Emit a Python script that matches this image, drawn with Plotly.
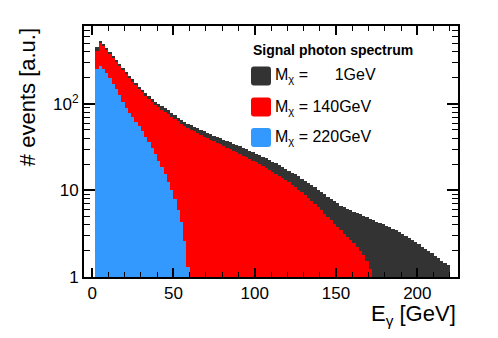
import numpy as np
import plotly.graph_objects as go

# histogram binning: 2 GeV bins starting at 2 GeV
bin_width = 2.0
bin_start = 2.0

# bin contents (log scale), one entry per bin
counts_1gev = [
    455, 530, 490, 440, 400, 360, 322, 290, 260, 235,
    212, 192, 174, 158, 145, 133, 123, 114, 106, 100,
    94, 89, 84, 79, 74, 69, 65, 62, 59, 56.5,
    54.5, 52.5, 50.5, 48.5, 46.5, 44.5, 43, 41.5, 40, 38.5,
    37.2, 36, 34.8, 33.6, 32.4, 31.2, 30, 28.9, 27.8, 26.7,
    25.6, 24.6, 23.6, 22.5, 21.5, 20.5, 19.6, 18.7, 17.8, 16.9,
    16.1, 15.3, 14.5, 13.7, 13.0, 12.3, 11.6, 10.9, 10.2, 9.6,
    9.0, 8.5, 8.0, 7.5, 7.1, 6.7, 6.4, 6.1, 5.9, 5.7,
    5.5, 5.3, 5.1, 4.9, 4.7, 4.5, 4.35, 4.2, 4.05, 3.9,
    3.75, 3.6, 3.45, 3.3, 3.15, 3.0, 2.85, 2.7, 2.55, 2.4,
    2.25, 2.12, 2.0, 1.88, 1.76, 1.65, 1.55, 1.46, 1.38,
]
counts_140gev = [
    405, 505, 465, 420, 380, 342, 305, 275, 246, 222,
    200, 181, 164, 149, 136, 125, 115, 106, 98, 92,
    86, 81, 76, 71, 67, 63, 59, 56, 53, 50.5,
    48, 46, 44, 42, 40.2, 38.6, 37, 35.5, 34, 32.6,
    31.3, 30, 28.8, 27.6, 26.4, 25.3, 24.2, 23.1, 22.1, 21.1,
    20.1, 19.1, 18.2, 17.3, 16.4, 15.6, 14.8, 14.0, 13.2, 12.4,
    11.6, 10.9, 10.2, 9.5, 8.8, 8.2, 7.6, 7.0, 6.4, 5.9,
    5.4, 4.9, 4.5, 4.1, 3.75, 3.45, 3.15, 2.9, 2.65, 2.45,
    2.25, 2.0, 1.8, 1.55, 1.25,
]
counts_220gev = [
    250, 275, 255, 225, 198, 172, 148, 127, 104, 90,
    79, 70, 62, 55, 48.5, 42, 36, 31, 26.5, 22,
    18.5, 15.5, 12.5, 10, 8, 6, 4.3, 2.6, 1.3,
]

masses = [1, 140, 220]
series = [counts_1gev, counts_140gev, counts_220gev]
colors = ["#333333", "#ff0000", "#3399ff"]
legend_labels = [
    "M<sub>χ</sub> =\u00a0\u00a0\u00a0\u00a0\u00a0\u00a01GeV",
    "M<sub>χ</sub> = 140GeV",
    "M<sub>χ</sub> = 220GeV",
]

font = "Liberation Sans, Arial, sans-serif"

fig = go.Figure()
for mass, counts, color in zip(masses, series, colors):
    centers = bin_start + bin_width * (np.arange(len(counts)) + 0.5)
    fig.add_trace(go.Bar(
        x=centers, y=counts, width=bin_width,
        marker=dict(color=color, line=dict(width=0)),
        name=f"{mass} GeV", showlegend=False,
    ))

# page body adds an 8px offset; plot area lands at x 84..458, y 26..277
fig.update_layout(
    width=498, height=338,
    margin=dict(l=76, r=48, t=18, b=69),
    paper_bgcolor="white", plot_bgcolor="white",
    barmode="overlay", bargap=0,
    font=dict(family=font, size=17, color="black"),
)
fig.update_xaxes(
    range=[-5, 225], showgrid=False, zeroline=False,
    showline=True, linecolor="black", linewidth=2, mirror="allticks",
    ticks="inside", ticklen=9, tickwidth=1.5, tickcolor="black",
    tickvals=[0, 50, 100, 150, 200],
    minor=dict(ticks="inside", ticklen=5, tickwidth=1, tickcolor="black",
               tickvals=list(range(0, 230, 10))),
    tickfont=dict(size=17),
)
fig.update_yaxes(
    type="log", range=[0, 2.9], showgrid=False, zeroline=False,
    showline=True, linecolor="black", linewidth=2, mirror="allticks",
    ticks="inside", ticklen=11, tickwidth=1.5, tickcolor="black",
    tickvals=[1, 10, 100], ticktext=["1", "10", "10<sup>2</sup>"],
    minor=dict(ticks="inside", ticklen=6, tickwidth=1, tickcolor="black",
               tickvals=[2, 3, 4, 5, 6, 7, 8, 9, 20, 30, 40, 50, 60, 70, 80, 90,
                         200, 300, 400, 500, 600, 700]),
    tickfont=dict(size=17),
)

annotations = [
    dict(text="# events [a.u.]", textangle=-90, x=-0.152, y=1.0,
         xref="paper", yref="paper", xanchor="center", yanchor="top",
         showarrow=False, font=dict(size=22)),
    dict(text="E<sub>γ</sub> [GeV]", x=1.0, y=-0.15,
         xref="paper", yref="paper", xanchor="right", yanchor="middle",
         showarrow=False, font=dict(size=22)),
    dict(text="<b>Signal photon spectrum</b>", x=0.4465, y=0.904,
         xref="paper", yref="paper", xanchor="left", yanchor="middle",
         showarrow=False, font=dict(size=14)),
]


def rounded_box(x0, x1, y0, y1, rx=0.008, ry=0.012):
    return (f"M {x0 + rx},{y0} L {x1 - rx},{y0} Q {x1},{y0} {x1},{y0 + ry} "
            f"L {x1},{y1 - ry} Q {x1},{y1} {x1 - rx},{y1} "
            f"L {x0 + rx},{y1} Q {x0},{y1} {x0},{y1 - ry} "
            f"L {x0},{y0 + ry} Q {x0},{y0} {x0 + rx},{y0} Z")


shapes = []
row_y = [0.801, 0.677, 0.556]
for label, color, yc in zip(legend_labels, colors, row_y):
    shapes.append(dict(type="path", xref="paper", yref="paper",
                       path=rounded_box(0.4465, 0.500, yc - 0.038, yc + 0.038),
                       fillcolor=color, line=dict(width=0)))
    annotations.append(dict(text=label, x=0.505, y=yc, xref="paper", yref="paper",
                            xanchor="left", yanchor="middle", showarrow=False,
                            font=dict(size=16)))

fig.update_layout(annotations=annotations, shapes=shapes)
fig.write_html("out.html")
